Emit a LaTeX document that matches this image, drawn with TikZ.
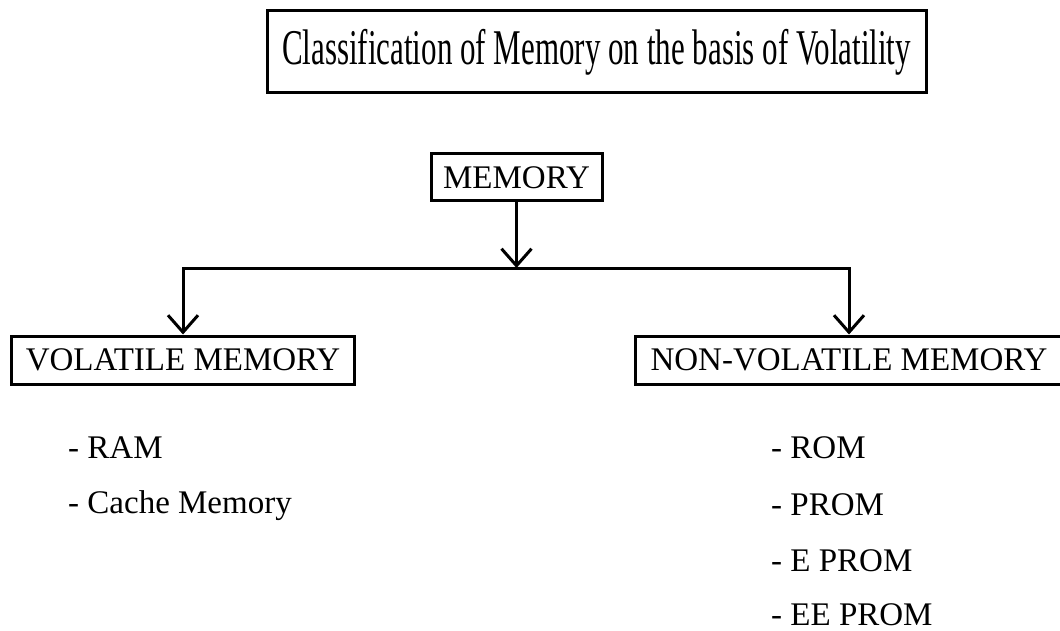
\documentclass[tikz,border=0pt]{standalone}
\usepackage{fontspec}
\setmainfont{Liberation Serif}
\newfontfamily\narrowfont[FakeStretch=0.62]{Liberation Serif}
\usetikzlibrary{arrows.meta}

\begin{document}
\begin{tikzpicture}[x=1pt, y=-1pt,
    box/.style={draw, line width=3pt, inner sep=0pt, anchor=center,
                font=\fontsize{33}{40}\selectfont},
    item/.style={anchor=base west, inner sep=0pt, font=\fontsize{33}{40}\selectfont},
    link/.style={line width=3pt, -{Straight Barb[length=17pt, width=30pt]}}]
\clip (0,0) rectangle (1060,631);
% heading
\node[box, minimum width=659pt, minimum height=82pt,
      font=\narrowfont\fontsize{50}{60}\selectfont] (title) at (596.5,52)
      {Classification of Memory on the basis of Volatility};
% tree
\node[box, minimum width=171pt, minimum height=47pt] (mem)  at (516.5,177.5) {MEMORY};
\node[box, minimum width=343pt, minimum height=48pt] (vol)  at (183,360)     {VOLATILE MEMORY};
\node[box, minimum width=428pt, minimum height=48pt] (nvol) at (849,360)     {NON-VOLATILE MEMORY};
\coordinate (bus) at (516.5,268);
\draw[link] (mem) -- (bus);
\draw[link] (bus) -| (vol);
\draw[link] (bus) -| (nvol);
% lists
\node[item] (ram)   at (68,458)  {- RAM};
\node[item] (cache) at (68,513)  {- Cache Memory};
\node[item] (rom)   at (771,458) {- ROM};
\node[item] (prom)  at (771,515) {- PROM};
\node[item] (eprom) at (771,571) {- E PROM};
\node[item] (eeprom) at (771,625) {- EE PROM};
\end{tikzpicture}
\end{document}
